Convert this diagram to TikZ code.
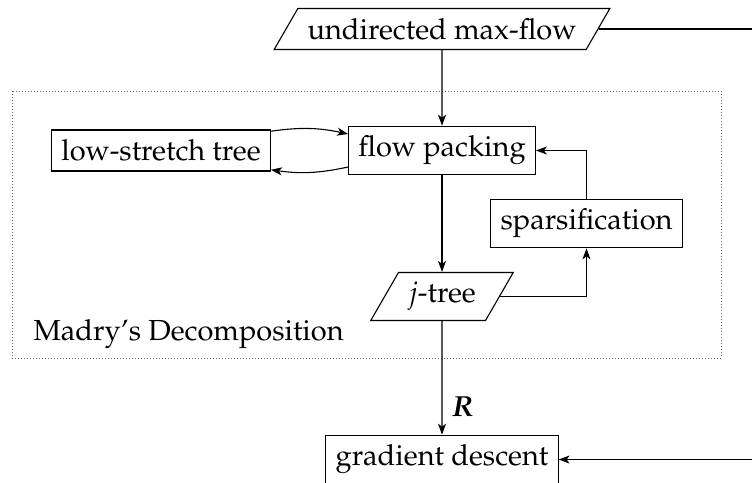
\documentclass[tikz,border=0pt]{standalone}
\usepackage[T1]{fontenc}
\usepackage{mathpazo}
\usetikzlibrary{shapes.geometric,arrows.meta}
\begin{document}
\begin{tikzpicture}[x=1pt,y=-1pt,
  font=\fontsize{29}{35}\selectfont,
  every node/.style={inner sep=9.7pt},
  line width=1.1pt,
  >={Stealth[length=11pt,width=8pt,inset=3pt]},
  box/.style={draw, rectangle},
  para/.style={draw, trapezium, trapezium left angle=60, trapezium right angle=120},
  frame/.style={draw=black!60, line width=1pt, dash pattern=on 1pt off 2pt}]
\useasboundingbox (0,0) rectangle (752,482);
\clip (0,0) rectangle (752,482);

% the decomposition block
\draw[frame] (12,91) rectangle (721,358);

\node[para] (um) at (442,29) {undirected max-flow};
\node[box] (fp) at (442,150.5) {flow packing};
\node[box] (lst) at (161,150.5) {low-stretch tree};
\node[box] (sp) at (586.5,223.5) {sparsification};
\node[para] (jt) at (442,296.5) {$j$-tree};
\node[box] (gd) at (442,459.5) {gradient descent};
\node[anchor=base west, inner sep=0pt] (md) at (33,340) {Madry's Decomposition};

\coordinate (loop) at (800,0);

\draw[->] (um) -- (fp);
\draw[->] (fp) -- (jt);
\draw[->] (jt) -- node[right, pos=.76] {\textbf{\textit{R}}} (gd);
\draw[->] (lst) to[bend left=10] (fp);
\draw[->] (fp) to[bend left=10] (lst);
\draw[->] (jt) -| (sp);
\draw[->] (sp) |- (fp);
\draw[->] (um.east) -| (loop |- gd.east) -- (gd.east);
\end{tikzpicture}
\end{document}
